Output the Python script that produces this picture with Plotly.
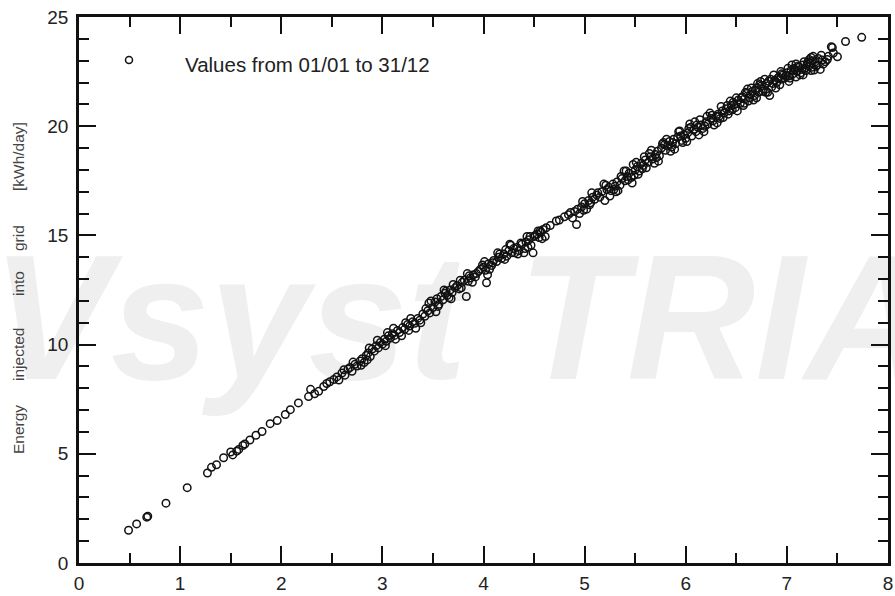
import plotly.graph_objects as go

# Daily values
irradiation_kwh = [
    0.49, 0.57, 0.67, 0.68, 0.86, 1.07, 1.27, 1.31, 1.36, 1.43,
    1.50, 1.52, 1.56, 1.58, 1.62, 1.64, 1.69, 1.75, 1.81, 1.89,
    1.96, 2.04, 2.09, 2.17, 2.27, 2.29, 2.33, 2.37, 2.42, 2.45,
    2.48, 2.52, 2.55, 2.57, 2.60, 2.63, 2.66, 2.68, 2.70, 2.73,
    2.75, 2.78, 2.80, 2.82, 2.84, 2.86, 2.88, 2.90, 2.92, 2.94,
    2.96, 2.98, 3.00, 3.02, 3.04, 3.06, 3.08, 3.10, 3.12, 3.15,
    3.17, 3.20, 3.22, 3.25, 3.27, 3.30, 3.32, 3.35, 3.37, 3.40,
    3.42, 3.45, 3.47, 3.50, 3.52, 3.54, 3.56, 3.58, 3.60, 3.62,
    3.64, 3.67, 3.69, 3.72, 3.74, 3.76, 3.79, 3.81, 3.83, 3.85,
    3.87, 3.90, 3.92, 3.95, 3.97, 4.00, 4.02, 4.03, 4.05, 4.08,
    4.10, 4.13, 4.15, 4.18, 4.20, 4.23, 4.25, 4.28, 4.30, 4.33,
    4.35, 4.38, 4.40, 4.42, 4.45, 4.47, 4.49, 4.50, 4.53, 4.55,
    4.57, 4.59, 4.72, 4.75, 4.84, 4.86, 4.88, 4.90, 4.92, 4.93,
    4.95, 4.97, 5.00, 5.02, 5.04, 5.06, 5.08, 5.10, 5.12, 5.15,
    5.17, 5.20, 5.22, 5.24, 5.26, 5.28, 5.30, 5.32, 5.35, 5.37,
    5.40, 5.42, 5.44, 5.46, 5.48, 5.50, 5.52, 5.54, 5.56, 5.58,
    5.60, 5.63, 5.65, 5.67, 5.70, 5.72, 5.74, 5.76, 5.78, 5.80,
    5.82, 5.84, 5.86, 5.88, 5.90, 5.92, 5.94, 5.96, 5.98, 6.00,
    6.02, 6.04, 6.06, 6.08, 6.10, 6.12, 6.15, 6.17, 6.20, 6.22,
    6.25, 6.27, 6.30, 6.32, 6.34, 6.36, 6.38, 6.40, 6.43, 6.45,
    6.47, 6.49, 6.52, 6.54, 6.56, 6.58, 6.60, 6.62, 6.64, 6.66,
    6.68, 6.70, 6.72, 6.75, 6.77, 6.80, 6.82, 6.83, 6.85, 6.88,
    6.90, 6.92, 6.94, 6.96, 6.98, 7.00, 7.02, 7.04, 7.06, 7.08,
    7.10, 7.12, 7.14, 7.16, 7.18, 7.20, 7.22, 7.24, 7.26, 7.27,
    7.28, 7.35, 7.36, 7.44, 7.45, 7.50, 7.58, 7.74, 7.26, 7.30,
    2.62, 2.71, 2.79, 2.87, 2.95, 3.03, 3.11, 3.19, 3.28, 3.38,
    3.48, 3.55, 3.63, 3.70, 3.78, 3.86, 3.93, 4.01, 4.09, 4.16,
    4.22, 4.31, 4.37, 4.44, 4.51, 4.56, 4.62, 4.66, 4.80, 4.98,
    5.05, 5.13, 5.21, 5.29, 5.36, 5.43, 5.51, 5.57, 5.64, 5.71,
    5.79, 5.87, 5.95, 6.03, 6.11, 6.19, 6.26, 6.33, 6.41, 6.48,
    6.55, 6.63, 6.69, 6.76, 6.84, 6.91, 6.99, 7.07, 7.15, 7.21,
    6.58, 6.65, 6.73, 6.86, 6.95, 7.03, 7.11, 7.19, 7.23, 7.13,
    5.25, 5.33, 5.41, 5.47, 5.53, 5.61, 5.66, 5.73, 5.81, 5.89,
    5.97, 6.05, 6.13, 6.21, 6.28, 6.35, 6.42, 6.50, 6.57, 6.61,
    6.67, 6.74, 6.79, 6.87, 6.93, 7.01, 7.09, 7.17, 7.25, 7.31,
    3.13, 3.23, 3.33, 3.43, 3.53, 3.61, 3.68, 3.77, 3.89, 3.99,
    4.06, 4.14, 4.21, 4.27, 4.34, 4.41, 4.46, 4.54, 4.58, 4.99,
    6.14, 6.31, 6.46, 6.71, 6.89, 7.05, 7.22, 7.29, 7.33, 7.41,
    2.85, 3.05, 3.26, 3.46, 3.66, 3.84, 4.04, 4.26, 4.43, 4.61,
    5.07, 5.19, 5.31, 5.39, 5.49, 5.59, 5.69, 5.77, 5.85, 5.93,
    6.01, 6.09, 6.18, 6.24, 6.37, 6.44, 6.51, 6.59, 6.70, 6.78,
    6.81, 6.94, 7.02, 7.09, 7.16, 7.24, 7.34, 7.38, 7.40, 7.46,
]

energy_grid_kwh = [
    1.50, 1.79, 2.10, 2.14, 2.74, 3.45, 4.12, 4.38, 4.50, 4.82,
    5.08, 4.95, 5.12, 5.20, 5.38, 5.45, 5.63, 5.85, 6.02, 6.38,
    6.52, 6.80, 7.02, 7.33, 7.62, 7.95, 7.75, 7.86, 8.08, 8.22,
    8.30, 8.40, 8.52, 8.38, 8.70, 8.60, 8.88, 8.95, 8.78, 9.10,
    9.02, 9.25, 9.35, 9.18, 9.50, 9.62, 9.45, 9.80, 9.70, 9.95,
    9.85, 10.10, 10.02, 10.25, 10.15, 10.40, 10.30, 10.50, 10.42, 10.65,
    10.55, 10.78, 10.70, 10.92, 10.85, 11.05, 10.98, 11.20, 11.12, 11.40,
    11.30, 11.55, 11.45, 11.70, 11.95, 12.10, 11.85, 12.20, 12.05, 12.35,
    12.25, 12.50, 12.38, 12.60, 12.70, 12.55, 12.85, 12.95, 12.20, 12.90,
    13.05, 13.20, 13.10, 13.35, 13.45, 13.55, 13.40, 12.83, 13.70, 13.62,
    13.85, 13.80, 14.00, 13.95, 14.15, 14.05, 14.30, 14.20, 14.40, 14.45,
    14.30, 14.60, 14.20, 14.70, 14.80, 14.55, 14.20, 14.95, 15.05, 14.90,
    15.15, 15.27, 15.66, 15.70, 15.95, 16.05, 15.80, 16.10, 15.50, 16.20,
    16.00, 16.30, 16.45, 16.20, 16.60, 16.50, 16.75, 16.65, 16.85, 16.75,
    17.00, 16.60, 17.10, 17.20, 17.05, 17.35, 17.25, 17.45, 17.30, 17.60,
    17.50, 17.70, 17.85, 17.65, 18.25, 18.00, 18.15, 17.95, 18.30, 18.20,
    18.45, 18.35, 18.60, 18.50, 18.70, 18.85, 18.65, 19.00, 19.25, 18.90,
    19.10, 19.30, 19.05, 19.40, 19.20, 19.50, 19.78, 19.35, 19.60, 19.45,
    19.70, 20.10, 19.55, 19.85, 19.75, 19.95, 20.05, 19.90, 20.20, 20.10,
    20.35, 20.25, 20.45, 20.55, 20.35, 20.70, 20.60, 20.80, 20.70, 20.95,
    21.10, 20.85, 21.20, 21.05, 21.35, 21.25, 21.50, 21.15, 21.45, 21.60,
    21.40, 21.75, 21.55, 21.85, 21.70, 21.95, 22.06, 21.40, 21.80, 22.10,
    22.00, 22.25, 22.15, 22.35, 22.20, 22.45, 22.30, 22.55, 22.40, 22.60,
    22.50, 22.70, 22.45, 22.80, 22.65, 22.85, 22.75, 22.55, 23.20, 22.57,
    22.95, 23.03, 22.84, 23.64, 23.60, 23.18, 23.88, 24.07, 23.00, 22.80,
    8.85, 9.20, 9.05, 9.85, 10.20, 9.95, 10.75, 10.40, 11.20, 11.00,
    12.00, 11.75, 12.45, 12.75, 12.60, 13.15, 13.25, 13.80, 13.75, 14.15,
    14.35, 14.20, 14.65, 14.45, 15.00, 15.20, 15.35, 15.45, 15.85, 16.55,
    16.40, 16.95, 17.30, 17.10, 17.70, 17.55, 18.35, 18.05, 18.75, 18.55,
    19.15, 19.25, 19.55, 19.90, 20.05, 20.00, 20.50, 20.45, 20.95, 21.00,
    21.30, 21.30, 21.65, 21.60, 22.15, 22.20, 22.30, 22.65, 22.60, 22.95,
    21.05, 21.75, 21.90, 21.95, 22.40, 22.20, 22.75, 22.55, 22.90, 22.35,
    16.80, 17.05, 17.95, 17.40, 17.80, 18.10, 18.90, 18.40, 19.40, 18.95,
    19.25, 19.95, 19.60, 20.45, 20.05, 20.90, 20.55, 21.30, 20.95, 21.70,
    21.20, 22.05, 21.55, 22.35, 21.90, 22.65, 22.25, 22.95, 22.70, 23.10,
    10.25, 11.00, 10.75, 11.65, 11.50, 12.50, 12.10, 12.95, 12.85, 13.65,
    13.45, 14.20, 13.90, 14.55, 14.15, 14.40, 14.95, 15.20, 14.85, 16.15,
    20.30, 20.15, 20.75, 21.95, 21.75, 22.80, 23.05, 22.75, 22.60, 23.20,
    9.30, 10.55, 10.65, 11.90, 12.15, 13.25, 13.20, 14.60, 14.95, 14.95,
    16.95, 17.35, 17.00, 17.95, 17.75, 18.60, 18.30, 19.20, 18.85, 19.75,
    19.30, 20.20, 19.75, 20.60, 20.40, 21.15, 20.70, 21.55, 21.30, 22.15,
    21.55, 22.50, 22.05, 22.85, 22.35, 23.15, 23.25, 22.95, 23.05, 23.35,
]

x_tick_values = [0, 1, 2, 3, 4, 5, 6, 7, 8]
y_tick_values = [0, 5, 10, 15, 20, 25]
y_title_words = ["Energy", "injected", "into", "grid", "[kWh/day]"]
legend_text = "Values from 01/01 to 31/12"
watermark_words = ["PVsyst", "TRIAL"]

W, H = 895, 596
L, R, T, B = 79, 7, 17, 33
pw, ph = W - L - R, H - T - B


def px_to_paper_x(px):
    return (px - L) / pw


def px_to_paper_y(py):
    return (H - B - py) / ph


FONT = "Liberation Sans, Arial, sans-serif"

fig = go.Figure()
fig.add_trace(go.Scatter(
    x=irradiation_kwh, y=energy_grid_kwh, mode="markers",
    marker=dict(symbol="circle-open", size=7.5, color="#111111",
                line=dict(width=1.5, color="#111111")),
    showlegend=False, hoverinfo="x+y",
))

axis_common = dict(
    showgrid=False, zeroline=False, automargin=False,
    showline=True, linewidth=2.5, linecolor="#111111", mirror="ticks",
    ticks="inside", ticklen=17, tickwidth=2, tickcolor="#111111",
    tickfont=dict(family=FONT, size=19, color="#222222"),
)

fig.update_xaxes(range=[0, 8], tickvals=x_tick_values,
                 minor=dict(ticks="inside", ticklen=10, tickwidth=2,
                            tickcolor="#111111", dtick=0.5, showgrid=False),
                 ticklabelstandoff=1, **axis_common)
fig.update_yaxes(range=[0, 25], tickvals=y_tick_values,
                 minor=dict(ticks="inside", ticklen=10, tickwidth=2,
                            tickcolor="#111111", dtick=1, showgrid=False),
                 ticklabelstandoff=4, **axis_common)

# watermark word boxes (left edge px) - drawn below the data
wm_left = [-130, 515]
shapes = []
for word, left in zip(watermark_words, wm_left):
    shapes.append(dict(
        type="rect", xref="paper", yref="paper",
        x0=px_to_paper_x(left), x1=px_to_paper_x(left + 600),
        y0=px_to_paper_y(370), y1=px_to_paper_y(230),
        line=dict(width=0), fillcolor="rgba(0,0,0,0)", layer="below",
        label=dict(text="<b><i>" + word + "</i></b>", padding=0,
                   font=dict(family=FONT, size=178, color="#efefef"),
                   textposition="middle left")))

# legend marker
shapes.append(dict(type="circle", xref="paper", yref="paper",
                   xsizemode="pixel", ysizemode="pixel",
                   xanchor=px_to_paper_x(129), yanchor=px_to_paper_y(60),
                   x0=-3.5, x1=3.5, y0=-3.5, y1=3.5,
                   line=dict(width=1.5, color="#111111")))

annotations = [
    dict(text=legend_text, xref="paper", yref="paper",
         x=px_to_paper_x(183), y=px_to_paper_y(64),
         xanchor="left", yanchor="middle", showarrow=False,
         font=dict(family=FONT, size=20.5, color="#222222")),
]

word_centers = [430, 355, 284, 238, 157]
for word, cy in zip(y_title_words, word_centers):
    annotations.append(dict(
        text=word, xref="paper", yref="paper",
        x=px_to_paper_x(18), y=px_to_paper_y(cy),
        xanchor="center", yanchor="middle", textangle=-90, showarrow=False,
        font=dict(family=FONT, size=15.5, color="#444444")))

fig.update_layout(
    width=W, height=H,
    margin=dict(l=L, r=R, t=T, b=B, autoexpand=False),
    paper_bgcolor="white", plot_bgcolor="rgba(0,0,0,0)",
    shapes=shapes, annotations=annotations,
    showlegend=False,
)

fig.write_html("out.html")
